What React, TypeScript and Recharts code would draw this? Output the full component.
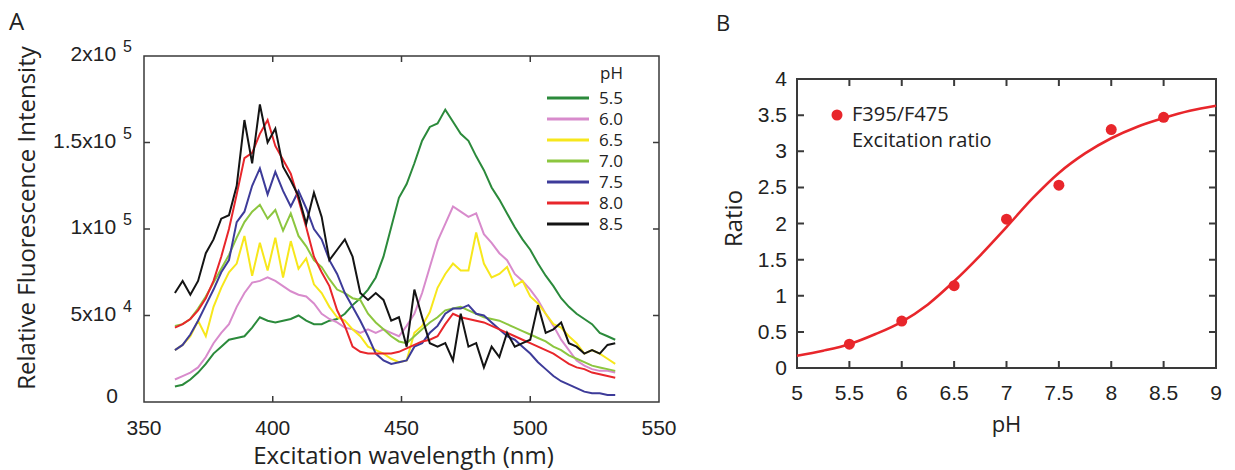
import { LineChart, Line, XAxis, YAxis, Legend, ComposedChart, Scatter, ReferenceArea, ReferenceLine } from 'recharts';

// ---- panel A: excitation spectra (intensity in thousands) ----
const wavelengths = [
  362, 365, 368, 371, 374, 377, 380, 383, 386, 389, 392, 395, 398, 401, 404, 407, 410, 413, 416,
  419, 422, 425, 428, 431, 434, 437, 440, 443, 446, 449, 452, 455, 458, 461, 464, 467, 470, 473,
  476, 479, 482, 485, 488, 491, 494, 497, 500, 503, 506, 509, 512, 515, 518, 521, 524, 527, 530, 533,
];
const ph55 = [
  9, 10, 13, 17, 22, 28, 32, 36, 37, 38, 43, 49, 47, 46, 47, 48, 50, 47, 45,
  45, 47, 48, 51, 56, 60, 65, 72, 84, 101, 118, 126, 138, 151, 159, 161, 169, 162, 155,
  151, 142, 134, 124, 117, 109, 101, 94, 88, 80, 73, 67, 60, 55, 51, 48, 45, 40, 38, 36,
];
const ph60 = [
  13, 15, 17, 20, 26, 34, 40, 45, 55, 63, 69, 70, 72, 70, 67, 64, 62, 61, 57,
  51, 48, 46, 43, 42, 40, 42, 40, 42, 40, 38, 44, 51, 63, 78, 93, 103, 113, 110,
  107, 109, 97, 92, 86, 82, 74, 70, 65, 59, 51, 44, 36, 30, 24, 21, 19, 18, 18, 17,
];
const ph65 = [
  30, 33, 38, 47, 38, 55, 66, 75, 80, 96, 73, 92, 76, 95, 72, 93, 77, 83, 68,
  63, 55, 49, 47, 42, 38, 32, 30, 28, 25, 23, 24, 40, 44, 52, 66, 74, 80, 76,
  76, 98, 80, 72, 74, 78, 67, 70, 61, 57, 51, 45, 43, 38, 34, 28, 30, 28, 25, 22,
];
const ph70 = [
  44, 45, 48, 54, 61, 69, 77, 85, 95, 104, 110, 114, 106, 111, 99, 109, 96, 90, 82,
  78, 71, 65, 63, 60, 59, 51, 46, 42, 38, 35, 34, 38, 42, 46, 49, 53, 54, 55,
  53, 51, 49, 48, 47, 45, 43, 41, 39, 37, 35, 32, 30, 27, 25, 23, 21, 20, 19, 18,
];
const ph75 = [
  30, 33, 39, 47, 56, 65, 75, 82, 104, 110, 125, 135, 120, 133, 122, 113, 122, 112, 100,
  94, 82, 74, 63, 55, 47, 38, 28, 24, 22, 23, 24, 32, 34, 40, 44, 51, 54, 54,
  56, 51, 50, 46, 42, 38, 36, 32, 28, 23, 19, 15, 12, 10, 8, 6, 5, 5, 4, 4,
];
const ph80 = [
  43, 45, 48, 53, 60, 70, 84, 100, 120, 141, 144, 155, 163, 148, 140, 132, 117, 101, 84,
  75, 67, 53, 44, 32, 29, 28, 28, 28, 28, 29, 31, 33, 35, 36, 38, 45, 51, 49,
  48, 47, 46, 44, 42, 40, 38, 36, 34, 32, 30, 28, 25, 22, 20, 19, 17, 16, 15, 14,
];
const ph85 = [
  63, 70, 62, 70, 86, 94, 106, 108, 125, 163, 138, 172, 150, 158, 136, 128, 119, 103, 121,
  107, 82, 88, 94, 84, 63, 59, 63, 59, 47, 49, 32, 65, 49, 34, 32, 34, 24, 51,
  32, 34, 20, 32, 26, 40, 32, 34, 36, 56, 40, 42, 46, 34, 32, 28, 30, 28, 33, 34,
];
const phLabels = ['5.5', '6.0', '6.5', '7.0', '7.5', '8.0', '8.5'];
const xTicksA = [350, 400, 450, 500, 550];
const yTicksA = [0, 50000, 100000, 150000, 200000];

// ---- panel B: ratio vs pH ----
const fitPh = [5, 5.25, 5.5, 5.75, 6, 6.25, 6.5, 6.75, 7, 7.25, 7.5, 7.75, 8, 8.25, 8.5, 8.75, 9];
const fitRatio = [0.17, 0.24, 0.33, 0.47, 0.64, 0.88, 1.2, 1.56, 1.95, 2.35, 2.7, 2.97, 3.18, 3.34, 3.46, 3.56, 3.63];
const measuredPh = [5.5, 6, 6.5, 7, 7.5, 8, 8.5];
const measuredRatio = [0.33, 0.65, 1.14, 2.06, 2.53, 3.3, 3.47];
const xTicksB = [5, 5.5, 6, 6.5, 7, 7.5, 8, 8.5, 9];
const yTicksB = [0, 0.5, 1, 1.5, 2, 2.5, 3, 3.5, 4];

const lineColors = ['#2b8a3b', '#d88bcc', '#f7e71c', '#8cc63f', '#3d3b99', '#e8262b', '#141414'];
const AXIS = '#3a3a3a';
const TICK_FONT = '"Liberation Sans", Arial, sans-serif';
const LABEL_FONT = '"Open Sans", "Noto Sans", sans-serif';
const TEXT = '#222';

const spectra = [ph55, ph60, ph65, ph70, ph75, ph80, ph85];
const rowsA = wavelengths.map((nm, i) => {
  const row: Record<string, number> = { nm };
  spectra.forEach((s, k) => {
    row['s' + k] = s[i] * 1000;
  });
  return row;
});
const fitRows = fitPh.map((ph, i) => ({ ph, ratio: fitRatio[i] }));
const pointRows = measuredPh.map((ph, i) => ({ ph, ratio: measuredRatio[i] }));
const inner = (t: number[]) => t.slice(1, -1);

function sciParts(v: number) {
  if (v === 0) return null;
  const exp = Math.floor(Math.log10(v));
  const mant = Math.round((v / Math.pow(10, exp)) * 10) / 10;
  return { mant: String(mant), exp: String(exp) };
}

// inward tick marks on both opposite sides, drawn from a reference line's end points
const vTicks = (len: number, w: number) => (p: any) => {
  const top = Math.min(p.y1, p.y2);
  const bot = Math.max(p.y1, p.y2);
  return <path d={`M${p.x1},${bot}V${bot - len}M${p.x1},${top}V${top + len}`} stroke={AXIS} strokeWidth={w} fill="none" />;
};
const hTicks = (len: number, w: number) => (p: any) => {
  const l = Math.min(p.x1, p.x2);
  const r = Math.max(p.x1, p.x2);
  return <path d={`M${l},${p.y1}H${l + len}M${r},${p.y1}H${r - len}`} stroke={AXIS} strokeWidth={w} fill="none" />;
};

const bottomLabel = (base: number) => (p: any) => (
  <text x={p.x} y={p.y + base} textAnchor="middle" fontFamily={TICK_FONT} fontSize={21} fill={TEXT}>
    {String(p.payload.value)}
  </text>
);

const LeftTickA = (p: any) => {
  const parts = sciParts(p.payload.value);
  return parts ? (
    <text x={p.x - 12} y={p.y + 5} textAnchor="end" fontFamily={TICK_FONT} fontSize={21} fill={TEXT}>
      <tspan>{parts.mant + 'x10'}</tspan>
      <tspan dx={7} dy={-9} fontSize={16}>{parts.exp}</tspan>
    </text>
  ) : (
    <text x={p.x - 26} y={p.y + 1} textAnchor="end" fontFamily={TICK_FONT} fontSize={21} fill={TEXT}>0</text>
  );
};

const LeftTickB = (p: any) => (
  <text x={p.x - 10} y={p.y + 7} textAnchor="end" fontFamily={TICK_FONT} fontSize={21} fill={TEXT}>
    {String(p.payload.value)}
  </text>
);

const XLabelA = (p: any) => {
  const vb = p.viewBox;
  return (
    <text x={vb.x + vb.width / 2 + 2} y={vb.y + 62} textAnchor="middle" fontFamily={LABEL_FONT} fontSize={24} fill={TEXT}>
      Excitation wavelength (nm)
    </text>
  );
};
const YLabelA = (p: any) => {
  const vb = p.viewBox;
  const cx = vb.x + 35;
  const cy = vb.y + vb.height / 2 - 11;
  return (
    <text x={cx} y={cy} transform={`rotate(-90 ${cx} ${cy})`} textAnchor="middle" fontFamily={LABEL_FONT} fontSize={24} fill={TEXT}>
      Relative Fluorescence Intensity
    </text>
  );
};
const XLabelB = (p: any) => {
  const vb = p.viewBox;
  return (
    <text x={vb.x + vb.width / 2} y={vb.y + 64} textAnchor="middle" fontFamily={LABEL_FONT} fontSize={22} fill={TEXT}>
      pH
    </text>
  );
};
const YLabelB = (p: any) => {
  const vb = p.viewBox;
  const cx = vb.x + 42;
  const cy = vb.y + vb.height / 2 - 5;
  return (
    <text x={cx} y={cy} transform={`rotate(-90 ${cx} ${cy})`} textAnchor="middle" fontFamily={LABEL_FONT} fontSize={24} fill={TEXT}>
      Ratio
    </text>
  );
};

const SpectraLegend = (props: any) => {
  const items = (props.payload || []) as any[];
  return (
    <svg width={110} height={175} style={{ display: 'block' }}>
      <text x={60} y={17} fontFamily={LABEL_FONT} fontSize={17} fill={TEXT}>pH</text>
      {items.map((it, i) => (
        <g key={i}>
          <line x1={7} x2={49} y1={36 + i * 21} y2={36 + i * 21} stroke={it.color} strokeWidth={3} />
          <text x={59} y={42 + i * 21} fontFamily={LABEL_FONT} fontSize={17} fill={TEXT}>{it.value}</text>
        </g>
      ))}
    </svg>
  );
};

const RatioLegend = () => (
  <svg width={240} height={60} style={{ display: 'block' }}>
    <circle cx={12} cy={20} r={5.5} fill="#e8262b" />
    <text x={27} y={26} fontFamily={LABEL_FONT} fontSize={20} fill={TEXT}>F395/F475</text>
    <text x={27} y={52} fontFamily={LABEL_FONT} fontSize={20} fill={TEXT}>Excitation ratio</text>
  </svg>
);

const RedDot = (p: any) => <circle cx={p.cx} cy={p.cy} r={5.5} fill="#e8262b" />;

export default function App() {
  return (
    <div style={{ position: 'absolute', left: 0, top: 0, width: 1235, height: 470, background: '#fff', overflow: 'hidden' }}>
      <svg width={1235} height={40} style={{ position: 'absolute', left: 0, top: 0 }}>
        <text x={9} y={30} fontFamily={LABEL_FONT} fontSize={24} fill={TEXT}>A</text>
        <text x={716} y={31} fontFamily={LABEL_FONT} fontSize={22} fill={TEXT}>B</text>
      </svg>

      <div style={{ position: 'absolute', left: 0, top: 0 }}>
        <LineChart width={690} height={470} data={rowsA} margin={{ top: 56, right: 31, bottom: 0, left: 0 }}>
          <XAxis
            dataKey="nm" type="number" domain={[350, 550]} ticks={xTicksA} interval={0}
            height={68} tickSize={0} tickMargin={0} tickLine={false} axisLine={false}
            tick={bottomLabel(33)} label={{ content: XLabelA }}
          />
          <YAxis
            type="number" domain={[0, 200000]} ticks={yTicksA} interval={0} width={144}
            tickSize={0} tickMargin={0} tickLine={false} axisLine={false}
            tick={LeftTickA} label={{ content: YLabelA }}
          />
          <ReferenceArea
            x1={350} x2={550} y1={0} y2={200000} fill="none" fillOpacity={0}
            stroke={AXIS} strokeWidth={1.5} ifOverflow="visible"
          />
          {inner(xTicksA).map((v) => (
            <ReferenceLine key={'x' + v} x={v} stroke={AXIS} shape={vTicks(6, 1.5)} />
          ))}
          {inner(yTicksA).map((v) => (
            <ReferenceLine key={'y' + v} y={v} stroke={AXIS} shape={hTicks(6, 1.5)} />
          ))}
          {phLabels.map((lab, k) => (
            <Line
              key={lab} name={lab} dataKey={'s' + k} type="linear" stroke={lineColors[k]} strokeWidth={2}
              dot={false} activeDot={false} isAnimationActive={false}
            />
          ))}
          <Legend
            layout="horizontal" verticalAlign="middle" align="center" content={SpectraLegend}
            wrapperStyle={{ left: 540, top: 62, width: 110, height: 175 }}
          />
        </LineChart>
      </div>

      <div style={{ position: 'absolute', left: 700, top: 0 }}>
        <ComposedChart width={535} height={470} margin={{ top: 79, right: 19, bottom: 0, left: 0 }}>
          <XAxis
            dataKey="ph" type="number" domain={[5, 9]} ticks={xTicksB} interval={0}
            height={102} tickSize={0} tickMargin={0} tickLine={false} axisLine={false}
            tick={bottomLabel(32)} label={{ content: XLabelB }}
          />
          <YAxis
            type="number" domain={[0, 4]} ticks={yTicksB} interval={0} width={97}
            tickSize={0} tickMargin={0} tickLine={false} axisLine={false}
            tick={LeftTickB} label={{ content: YLabelB }}
          />
          <ReferenceArea
            x1={5} x2={9} y1={0} y2={4} fill="none" fillOpacity={0}
            stroke={AXIS} strokeWidth={2} ifOverflow="visible"
          />
          {inner(xTicksB).map((v) => (
            <ReferenceLine key={'x' + v} x={v} stroke={AXIS} shape={vTicks(7, 2)} />
          ))}
          {inner(yTicksB).map((v) => (
            <ReferenceLine key={'y' + v} y={v} stroke={AXIS} shape={hTicks(7, 2)} />
          ))}
          <Line
            data={fitRows} dataKey="ratio" type="monotone" stroke="#e8262b" strokeWidth={2.6}
            dot={false} activeDot={false} isAnimationActive={false}
          />
          <Scatter data={pointRows} dataKey="ratio" fill="#e8262b" shape={RedDot} isAnimationActive={false} />
          <Legend
            layout="horizontal" verticalAlign="middle" align="center" content={RatioLegend}
            wrapperStyle={{ left: 125, top: 95, width: 240, height: 60 }}
          />
        </ComposedChart>
      </div>
    </div>
  );
}
